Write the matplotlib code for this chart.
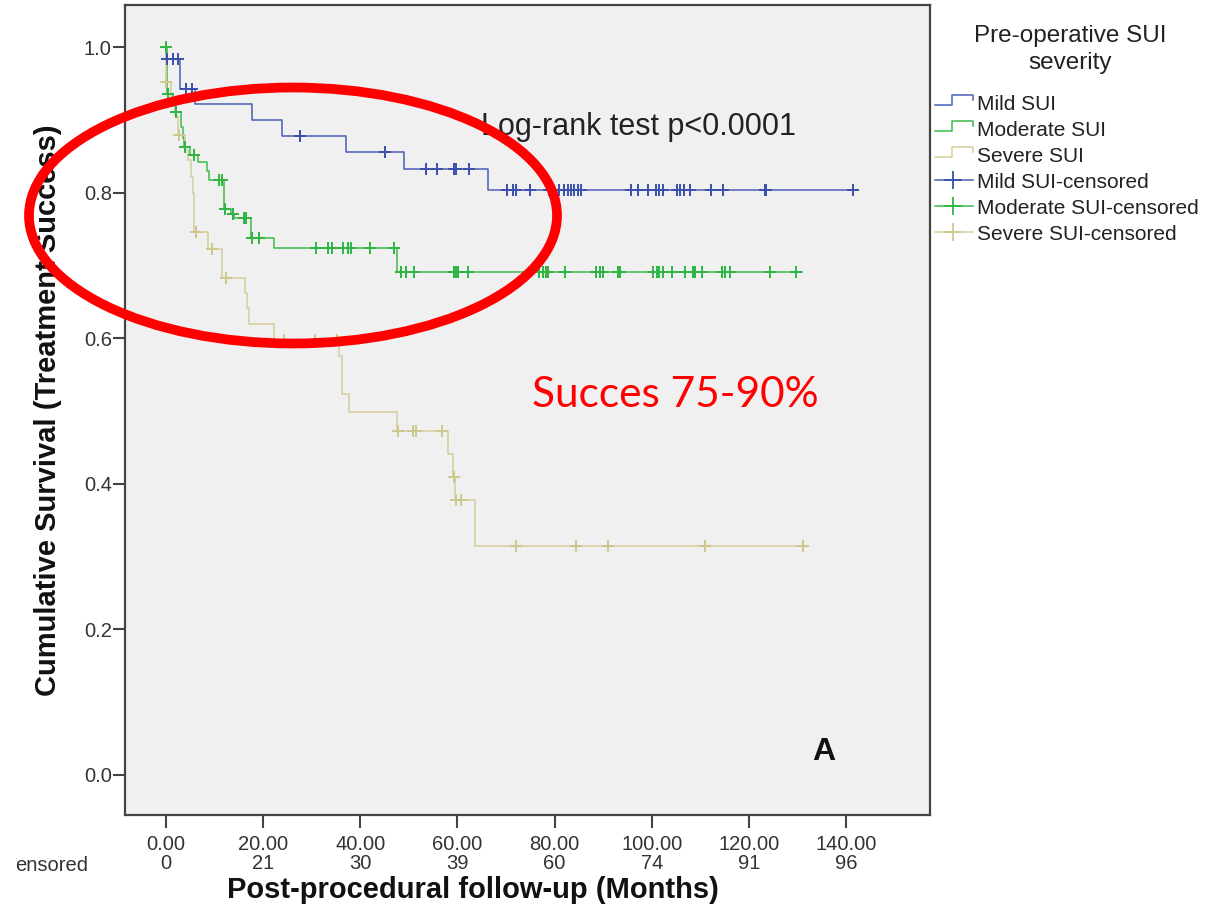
import numpy as np
import matplotlib
matplotlib.use("Agg")
import matplotlib.pyplot as plt
from matplotlib.patches import Ellipse
from matplotlib.lines import Line2D

plt.rcParams['font.family'] = ['Liberation Sans', 'DejaVu Sans']

# ---------------- data ----------------
groups = ["Mild SUI", "Moderate SUI", "Severe SUI"]

mild_t = [0.0, 0.1, 2.8, 5.9, 17.8, 23.8, 37.0, 48.9, 66.3]
mild_s = [1.0, 0.983, 0.942, 0.922, 0.900, 0.878, 0.856, 0.833, 0.804]
mild_end = 142.5
mild_cens = [0.2, 1.4, 2.4, 4.2, 5.3, 27.6, 45.1, 53.5, 55.7, 59.4, 59.7, 62.3,
             70.2, 71.4, 72.1, 75.0, 78.8, 81.0, 81.9, 82.7, 83.4, 84.1, 84.8,
             85.5, 95.8, 97.2, 99.2, 100.9, 101.5, 102.3, 105.3, 105.9, 106.6,
             107.8, 112.3, 114.7, 123.3, 123.6, 141.4]

mod_t = [0.0, 0.2, 1.5, 1.9, 3.0, 3.5, 3.8, 5.0, 6.5, 8.4, 8.8, 12.0, 13.3,
         14.0, 17.4, 22.3, 47.5]
mod_s = [1.0, 0.936, 0.923, 0.911, 0.890, 0.875, 0.863, 0.852, 0.842, 0.829,
         0.817, 0.778, 0.771, 0.765, 0.738, 0.724, 0.691]
mod_end = 130.9
mod_cens = [0.0, 0.4, 2.1, 4.0, 5.8, 11.0, 11.6, 12.2, 13.8, 16.0, 16.5, 17.8,
            19.2, 30.9, 33.3, 34.2, 36.4, 37.4, 38.0, 41.9, 47.0, 48.4, 49.4,
            51.1, 59.4, 59.7, 60.1, 62.1, 76.9, 77.6, 78.3, 78.6, 82.1, 88.6,
            89.3, 90.0, 93.1, 93.4, 100.3, 101.0, 101.6, 102.3, 104.1, 106.8,
            108.5, 108.9, 110.3, 114.4, 115.1, 116.1, 124.3, 129.7]

sev_t = [0.0, 0.05, 1.0, 1.8, 2.5, 4.0, 4.5, 5.2, 5.5, 5.7, 8.6, 11.6, 16.3,
         16.6, 17.0, 22.3, 35.7, 36.2, 37.7, 47.5, 58.0, 59.0, 59.6, 63.7]
sev_s = [1.0, 0.952, 0.930, 0.905, 0.879, 0.859, 0.845, 0.822, 0.800, 0.746,
         0.723, 0.682, 0.662, 0.641, 0.619, 0.598, 0.575, 0.524, 0.499, 0.4725,
         0.441, 0.409, 0.378, 0.315]
sev_end = 132.2
sev_cens = [0.1, 2.7, 6.1, 9.5, 12.3, 24.3, 30.7, 35.3, 47.7, 50.8, 51.5, 56.8,
            59.4, 59.7, 60.8, 72.0, 84.5, 91.0, 110.9, 131.2]

x_ticks = [0, 20, 40, 60, 80, 100, 120, 140]
n_censored = [0, 21, 30, 39, 60, 74, 91, 96]
y_ticks = [0.0, 0.2, 0.4, 0.6, 0.8, 1.0]

colors = ["#4a5fb6", "#3cba4c", "#d5ce9a"]
cens_colors = ["#3a50ac", "#2fb543", "#cfc88e"]

# ---------------- figure ----------------
W, H = 1208, 910
fig = plt.figure(figsize=(W / 100, H / 100), dpi=100)
fig.patch.set_facecolor("white")


def fx(px):
    return px / W


def fy(py):
    return 1 - py / H


ax = fig.add_axes([fx(125), fy(815), (930 - 125) / W, (815 - 5) / H])
ax.set_facecolor("#f0f0f0")
ax.set_xlim(-8.44, 157.3)
ax.set_ylim(-0.055, 1.0577)

series = [(mild_t, mild_s, mild_end, mild_cens),
          (mod_t, mod_s, mod_end, mod_cens),
          (sev_t, sev_s, sev_end, sev_cens)]

for (t, s, end, cens), c, cc in zip(series, colors, cens_colors):
    t = np.asarray(t)
    s = np.asarray(s)
    ax.step(np.append(t, end), np.append(s, s[-1]), where="post",
            color=c, lw=1.1, zorder=3)
    cens = np.asarray(cens)
    idx = np.searchsorted(t, cens, side="right") - 1
    ax.plot(cens, s[idx], linestyle="none", marker="+", ms=8, mew=1.4,
            color=cc, zorder=4)

for sp in ax.spines.values():
    sp.set_color("#444444")
    sp.set_linewidth(1.6)

ax.set_yticks(y_ticks)
ax.set_yticklabels([f"{v:.1f}" for v in y_ticks])
ax.set_xticks(x_ticks)
ax.set_xticklabels([f"{v:.2f}\n{n}" for v, n in zip(x_ticks, n_censored)])
ax.tick_params(axis="y", direction="out", length=8.5, width=1.5,
               colors="#444444", labelcolor="#333333", labelsize=14.5, pad=1)
ax.tick_params(axis="x", direction="out", length=9.5, width=1.5,
               colors="#444444", labelcolor="#333333", labelsize=14.5, pad=5)
plt.setp(ax.get_xticklabels(), linespacing=1.0)

# row label for censored numbers (cropped at the left edge in the original)
fig.text(fx(88), fy(871), "ensored", ha="right", va="baseline",
         fontsize=14.5, color="#333333")

# axis labels
fig.text(fx(48), fy(410), "Cumulative Survival (Treatment Success)",
         rotation=90, ha="center", va="center", fontsize=21,
         fontweight="bold", color="#111111")
fig.text(fx(473), fy(898), "Post-procedural follow-up (Months)",
         ha="center", va="baseline", fontsize=21, fontweight="bold",
         color="#111111")

# annotations
fig.text(fx(481), fy(135), "Log-rank test p<0.0001", ha="left",
         va="baseline", fontsize=22, color="#222222")
fig.text(fx(824), fy(760), "A", ha="center", va="baseline", fontsize=23,
         fontweight="bold", color="#111111")
fig.text(fx(532), fy(407), "Succes 75-90%", ha="left", va="baseline",
         fontsize=30.5, color="#ff0000", family=["Lato", "DejaVu Sans"])

# red ellipse
ell = Ellipse((fx(293), fy(215.5)), width=528 / W, height=256 / H,
              transform=fig.transFigure, fill=False, edgecolor="#ff0000",
              lw=7, zorder=10)
fig.add_artist(ell)

# legend (manual)
fig.text(fx(1070), fy(41.7), "Pre-operative SUI", ha="center", va="baseline",
         fontsize=17.5, color="#222222")
fig.text(fx(1070), fy(69), "severity", ha="center", va="baseline",
         fontsize=17.5, color="#222222")
labels = groups + [g + "-censored" for g in groups]
for i, lab in enumerate(labels):
    b = 110 + 25.9 * i
    c = colors[i % 3]
    if i < 3:
        xs = [935, 952, 952, 973, 973]
        ys = [b - 5, b - 5, b - 15, b - 15, b - 10]
        fig.add_artist(Line2D([fx(v) for v in xs], [fy(v) for v in ys],
                              transform=fig.transFigure, color=c, lw=1.1))
    else:
        fig.add_artist(Line2D([fx(935), fx(973)], [fy(b - 8), fy(b - 8)],
                              transform=fig.transFigure, color=c, lw=1.1))
        fig.add_artist(Line2D([fx(953)], [fy(b - 8)], marker="+", ms=13,
                              mew=1.3, linestyle="none",
                              transform=fig.transFigure, color=cens_colors[i % 3]))
    fig.text(fx(977), fy(b), lab, ha="left", va="baseline", fontsize=15,
             color="#222222")

fig.savefig("out.png", dpi=100, facecolor="white")
